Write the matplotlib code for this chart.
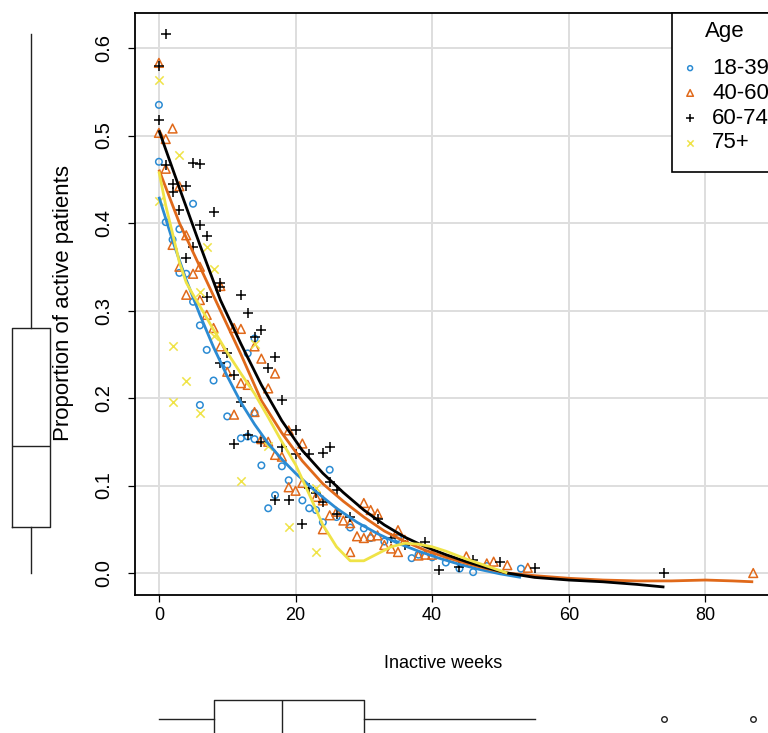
import matplotlib
matplotlib.use("Agg")
import matplotlib.pyplot as plt
from matplotlib.patches import Rectangle

plt.rcParams['font.family'] = ['Liberation Sans', 'DejaVu Sans']

# ---- data ----
groups = ['18-39', '40-60', '60-74', '75+']

x_1839 = [0, 0, 1, 2, 3, 3, 4, 5, 5, 6, 7, 8, 6, 10, 10, 13, 14, 14, 12, 13, 14, 15, 18, 25, 19,
          17, 16, 21, 22, 23, 24, 26, 28, 30, 31, 33, 35, 37, 38, 40, 42, 44, 46, 48, 53]
y_1839 = [.535, .470, .401, .381, .393, .343, .342, .422, .310, .283, .255, .220, .192, .179, .238,
          .251, .268, .183, .154, .156, .153, .123, .122, .118, .106, .089, .074, .083, .074, .072,
          .058, .064, .052, .051, .040, .036, .040, .017, .021, .018, .012, .005, .001, .008, .005]

x_4060 = [0, 0, 1, 2, 1, 3, 4, 2, 3, 6, 5, 9, 4, 6, 7, 8, 11, 12, 9, 14, 15, 10, 17, 12, 13, 16,
          14, 11, 19, 15, 16, 21, 17, 18, 21, 19, 20, 23, 24, 25, 24, 26, 27, 28, 28, 30, 31, 32,
          29, 30, 31, 32, 33, 34, 35, 35, 36, 38, 39, 40, 45, 48, 49, 51, 54, 87]
y_4060 = [.583, .503, .496, .508, .462, .442, .386, .375, .350, .350, .342, .328, .318, .312, .295,
          .280, .280, .279, .259, .259, .245, .230, .228, .217, .215, .211, .184, .181, .163, .153,
          .150, .148, .135, .133, .103, .098, .094, .087, .083, .066, .050, .070, .060, .057, .024,
          .080, .072, .068, .042, .040, .042, .043, .032, .028, .049, .024, .038, .020, .021, .021,
          .019, .011, .013, .009, .006, .000]

x_6074 = [1, 0, 0, 5, 6, 1, 2, 4, 2, 8, 3, 6, 7, 5, 4, 9, 9, 12, 7, 13, 15, 14, 10, 17, 16, 9,
          11, 18, 12, 11, 13, 15, 18, 20, 20, 22, 24, 25, 17, 19, 22, 23, 24, 21, 25, 26, 26, 28,
          32, 34, 36, 39, 41, 44, 46, 50, 55, 74]
y_6074 = [.616, .579, .518, .469, .467, .466, .445, .442, .436, .413, .415, .398, .385, .373, .360,
          .331, .327, .318, .316, .297, .278, .270, .251, .247, .234, .240, .226, .198, .195, .148,
          .158, .150, .144, .163, .136, .136, .137, .144, .084, .083, .097, .091, .081, .056, .104,
          .095, .068, .064, .062, .040, .032, .036, .003, .007, .015, .013, .006, .000]

x_75 = [0, 3, 0, 7, 8, 6, 8, 2, 14, 4, 2, 6, 16, 12, 23, 19, 23]
y_75 = [.563, .478, .425, .373, .348, .321, .271, .259, .262, .219, .195, .183, .145, .105, .097,
        .053, .024]

# smoother curves
sx_1839 = [0, 2, 4, 6, 8, 10, 12, 14, 16, 18, 20, 23, 26, 29, 32, 35, 38, 41, 44, 47, 50, 53]
sy_1839 = [.43, .38, .335, .295, .258, .225, .195, .17, .148, .13, .114, .093, .074, .058, .045,
           .034, .025, .017, .010, .004, -.001, -.005]
sx_4060 = [0, 3, 6, 9, 12, 15, 18, 21, 24, 27, 30, 33, 36, 39, 42, 45, 48, 51, 55, 60, 65, 70,
           75, 80, 84, 87]
sy_4060 = [.461, .40, .35, .30, .25, .197, .16, .128, .102, .082, .064, .048, .036, .026, .018,
           .011, .005, .000, -.003, -.006, -.008, -.009, -.009, -.008, -.009, -.010]
sx_6074 = [0, 3, 6, 9, 12, 15, 18, 21, 24, 27, 30, 33, 36, 39, 42, 45, 48, 51, 55, 60, 65, 70, 74]
sy_6074 = [.506, .44, .375, .312, .262, .215, .174, .140, .114, .092, .072, .055, .041, .030,
           .021, .013, .006, .000, -.005, -.008, -.010, -.013, -.016]
sx_75 = [0, 1, 2, 3, 4, 5, 6, 8, 10, 12, 14, 16, 18, 20, 22, 24, 26, 28, 30, 32, 34, 36, 38, 40,
         42, 45, 48, 51]
sy_75 = [.459, .42, .388, .355, .332, .318, .305, .278, .252, .228, .205, .178, .15, .124, .09,
         .055, .03, .014, .014, .022, .03, .034, .033, .03, .025, .016, .008, .0]

# marginal boxplot summaries
box_x = dict(whislo=0, q1=8, med=18, q3=30, whishi=55, fliers=[74, 87])
box_y = dict(whislo=0.0, q1=0.053, med=0.145, q3=0.28, whishi=0.616, fliers=[])

xticks = [0, 20, 40, 60, 80]
yticks = [0.0, 0.1, 0.2, 0.3, 0.4, 0.5, 0.6]

# ---- styling ----
W, H = 768, 733
cols = ['#2b8bd3', '#e0691a', '#000000', '#efe347']
marks = ['o', '^', '+', 'x']
sizes = [22, 40, 58, 36]

def fx(px):
    return px / W

def fy(py):
    return 1 - py / H

fig = plt.figure(figsize=(W / 100, H / 100), dpi=100)

L, R, T, B = 135, 777, 13, 595
ax = fig.add_axes([fx(L), fy(B), (R - L) / W, (B - T) / H])
xlim = (-3.5, 90.48)
ylim = (-0.0251, 0.64)

xs = [x_1839, x_4060, x_6074, x_75]
ys = [y_1839, y_4060, y_6074, y_75]
sxs = [sx_1839, sx_4060, sx_6074, sx_75]
sys_ = [sy_1839, sy_4060, sy_6074, sy_75]

handles = []
for i in range(4):
    if marks[i] in ('o', '^'):
        h = ax.scatter(xs[i], ys[i], marker=marks[i], s=sizes[i], facecolors='none',
                       edgecolors=cols[i], linewidths=1.1, zorder=3)
    else:
        h = ax.scatter(xs[i], ys[i], marker=marks[i], s=sizes[i], color=cols[i],
                       linewidths=1.1, zorder=3)
    handles.append(h)
for i in range(4):
    ax.plot(sxs[i], sys_[i], color=cols[i], lw=2.0, zorder=4, solid_capstyle='butt')

ax.set_xlim(xlim)
ax.set_ylim(ylim)
ax.set_xticks(xticks)
ax.set_xticklabels([str(t) for t in xticks])
ax.set_yticks(yticks)
ax.set_yticklabels(['%.1f' % t for t in yticks])
ax.grid(color='#dedede', lw=1.4)
ax.set_axisbelow(True)
for sp in ax.spines.values():
    sp.set_linewidth(1.3)
ax.tick_params(direction='out', length=5, width=0.9)
ax.tick_params(axis='x', pad=3.5, labelsize=13)
ax.tick_params(axis='y', pad=11, labelrotation=90, labelsize=14.5)
for lbl in ax.get_yticklabels():
    lbl.set_va('center')

ax.set_xlabel('Inactive weeks', fontsize=13)
ax.xaxis.set_label_coords((443 - L) / (R - L), (B - 663) / (B - T))
ax.xaxis.label.set_va('center')
ax.set_ylabel('Proportion of active patients', fontsize=16)
ax.yaxis.set_label_coords((64 - L) / (R - L), (B - 303) / (B - T))
ax.yaxis.label.set_va('center')

# marginal boxplots
bprops = dict(color='#222222', lw=1.0)
axl = fig.add_axes([0, fy(B), 62 / W, (B - T) / H])
axl.bxp([box_y], positions=[0], widths=1.23, showcaps=False, showfliers=False,
        boxprops=bprops, whiskerprops=bprops, medianprops=bprops)
axl.set_xlim(-1, 1)
axl.set_ylim(ylim)
axl.axis('off')

axb = fig.add_axes([fx(L), fy(748), (R - L) / W, 58 / H])
axb.bxp([box_x], positions=[0], widths=1.31, orientation='horizontal', showcaps=False,
        boxprops=bprops, whiskerprops=bprops, medianprops=bprops,
        flierprops=dict(marker='o', markersize=4, markerfacecolor='none',
                        markeredgecolor='#222222', markeredgewidth=1.0))
axb.set_xlim(xlim)
axb.set_ylim(-1, 1)
axb.axis('off')

# legend
fig.add_artist(Rectangle((fx(672), fy(172)), (782 - 672) / W, (172 - 13) / H,
                         transform=fig.transFigure, facecolor='white', edgecolor='black',
                         lw=1.2, zorder=5))
fig.text(fx(725), fy(32), 'Age', ha='center', va='center', fontsize=16, zorder=6)
leg = fig.legend(handles, groups, loc='upper left', bbox_to_anchor=(fx(679), fy(58)),
                 bbox_transform=fig.transFigure, frameon=False, fontsize=16, borderpad=0,
                 handlelength=1.0, handletextpad=0.5, labelspacing=0.17, markerscale=0.75,
                 borderaxespad=0)
leg.set_zorder(6)

fig.savefig('out.png', dpi=100)
